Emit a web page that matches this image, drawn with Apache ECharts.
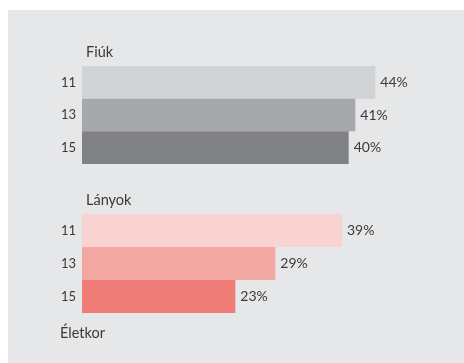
<!DOCTYPE html>
<html>
<head>
<meta charset="utf-8">
<script src="https://cdn.jsdelivr.net/npm/echarts@6/dist/echarts.min.js"></script>
<style>
html,body{margin:0;padding:0;background:#ffffff;}
#chart{width:464px;height:363px;}
</style>
</head>
<body>
<div id="chart"></div>
<script>
const ages = ['11', '13', '15'];
const boys = [44, 41, 40];
const girls = [39, 29, 23];
const groupTitles = ['Fiúk', 'Lányok'];
const axisTitle = 'Életkor';

const boyColors = ['#d1d2d4', '#a7a8ab', '#808184'];
const girlColors = ['#f8d3d2', '#f3a7a3', '#ef7c77'];
const FONT = 'Lato, "Open Sans", sans-serif';
const TXT = '#3a3a3a';

const chart = echarts.init(document.getElementById('chart'), null, {renderer: 'canvas'});

function mkData(vals, cols) {
  return vals.map((v, i) => ({value: v, itemStyle: {color: cols[i]}}));
}

const xAxisBase = {type: 'value', min: 0, max: 45, show: false};
const yAxisBase = {
  type: 'category', data: ages, inverse: true,
  axisLine: {show: false}, axisTick: {show: false}, splitLine: {show: false},
  axisLabel: {color: TXT, fontSize: 13, fontFamily: FONT, margin: 6}
};
const seriesBase = {
  type: 'bar', barCategoryGap: 0, silent: true,
  label: {show: true, position: 'right', distance: 5, formatter: '{c}%', color: TXT, fontSize: 14, fontFamily: FONT}
};

chart.setOption({
  animation: false,
  backgroundColor: '#ffffff',
  graphic: [
    {type: 'rect', shape: {x: 8, y: 10, width: 456, height: 353}, style: {fill: '#e6e7e8'}, z: -10}
  ],
  title: [
    {text: groupTitles[0], left: 81, top: 40, textStyle: {fontSize: 14.5, fontWeight: 'normal', color: TXT, fontFamily: FONT}},
    {text: groupTitles[1], left: 81, top: 188, textStyle: {fontSize: 14.5, fontWeight: 'normal', color: TXT, fontFamily: FONT}},
    {text: axisTitle, left: 55, top: 321, textStyle: {fontSize: 14.5, fontWeight: 'normal', color: TXT, fontFamily: FONT}}
  ],
  grid: [
    {left: 82, right: 82, top: 66, height: 98},
    {left: 82, right: 82, top: 214, height: 99}
  ],
  xAxis: [
    Object.assign({gridIndex: 0}, xAxisBase),
    Object.assign({gridIndex: 1}, xAxisBase)
  ],
  yAxis: [
    Object.assign({gridIndex: 0}, yAxisBase),
    Object.assign({gridIndex: 1}, yAxisBase)
  ],
  series: [
    Object.assign({xAxisIndex: 0, yAxisIndex: 0, data: mkData(boys, boyColors)}, seriesBase),
    Object.assign({xAxisIndex: 1, yAxisIndex: 1, data: mkData(girls, girlColors)}, seriesBase)
  ]
});
</script>
</body>
</html>
